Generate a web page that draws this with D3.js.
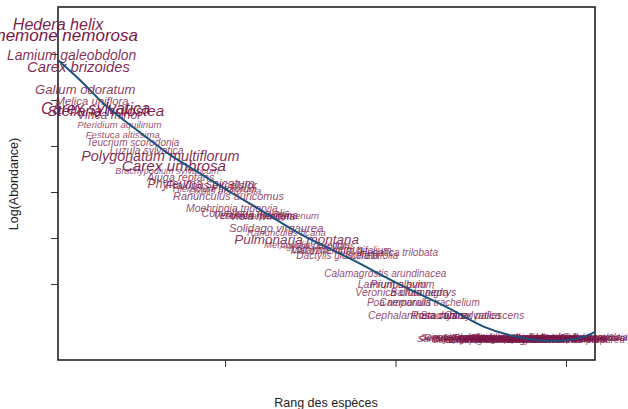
<!DOCTYPE html>
<html>
<head>
<meta charset="utf-8">
<script src="https://cdn.jsdelivr.net/npm/d3@7"></script>
<style>
body { margin: 0; background: #fff; }
text { font-family: "Liberation Sans", Arial, sans-serif; }
</style>
</head>
<body>
<svg id="chart" width="628" height="409"></svg>
<script>
// rang / log(abondance) / frequence relative (taille du texte)
var especes = [
    'Hedera helix', 'Anemone nemorosa', 'Lamium galeobdolon', 'Carex brizoides',
    'Galium odoratum', 'Melica uniflora', 'Carex sylvatica', 'Stellaria holostea',
    'Vinca minor', 'Pteridium aquilinum', 'Festuca altissima', 'Teucrium scorodonia',
    'Luzula sylvatica', 'Polygonatum multiflorum', 'Carex umbrosa', 'Brachypodium sylvaticum',
    'Ajuga reptans', 'Phyteuma spicatum', 'Fraxinus excelsior', 'Hieracium murorum',
    'Oxalis acetosella', 'Ranunculus auricomus', 'Moehringia trinervia', 'Convallaria majalis',
    'Veronica montana', 'Viola riviniana', 'Lonicera periclymenum', 'Solidago virgaurea',
    'Ranunculus ficaria', 'Pulmonaria montana', 'Mercurialis perennis', 'Agrostis capillaris',
    'Lathyrus vernus', 'Maianthemum bifolium', 'Dactylis glomerata', 'Scilla bifolia',
    'Hepatica trilobata', 'Calamagrostis arundinacea', 'Lamium album', 'Prunus avium',
    'Veronica chamaedrys', 'Ballota nigra', 'Poa nemoralis', 'Campanula trachelium',
    'Cephalanthera rubra', 'Rosa canina', 'Stachys sylvatica', 'Carex pallescens',
    'Senecio ovatus', 'Sanicula europaea', 'Circaea lutetiana', 'Galium aparine',
    'Geranium robertianum', 'Urtica dioica', 'Dryopteris filix-mas', 'Athyrium filix-femina',
    'Carpinus betulus', 'Fagus sylvatica', 'Quercus robur', 'Sorbus aucuparia',
    'Crataegus monogyna', 'Corylus avellana', 'Epilobium montanum', 'Mycelis muralis',
    'Fragaria vesca', 'Geum urbanum', 'Glechoma hederacea', 'Impatiens parviflora',
    'Juncus effusus', 'Luzula pilosa', 'Milium effusum', 'Deschampsia cespitosa',
    'Carex remota', 'Carex digitata', 'Epipactis helleborine', 'Neottia nidus-avis',
    'Paris quadrifolia', 'Rubus idaeus', 'Sambucus nigra', 'Acer campestre',
    'Ilex aquifolium', 'Lysimachia nemorum', 'Primula elatior', 'Arum maculatum',
    'Allium ursinum', 'Ranunculus repens', 'Prenanthes purpurea', 'Cardamine pratensis',
    'Viola hirta', 'Euphorbia amygdaloides', 'Carex pendula', 'Hypericum perforatum'
];

var rang = [
    1, 2, 5, 7, 9, 11, 12, 15, 16, 19, 20, 23,
    27, 31, 35, 33, 37, 43, 46, 47, 50, 51, 52, 56,
    59, 61, 63, 65, 68, 71, 74, 77, 80, 84, 83, 93,
    101, 97, 99, 102, 103, 107, 101, 110, 106, 113, 119, 126,
    117, 118, 119, 120, 121, 122, 123, 124, 125, 126, 127, 128,
    129, 130, 131, 132, 133, 134, 135, 136, 137, 138, 139, 140,
    141, 142, 143, 144, 145, 146, 147, 148, 148, 149, 150, 151,
    152, 153, 154, 155, 156, 157, 157, 158
];

var logAb = [
    6.65, 6.41, 5.98, 5.72, 5.22, 4.98, 4.83, 4.78, 4.67, 4.46, 4.24, 4.07,
    3.91, 3.78, 3.57, 3.46, 3.33, 3.17, 3.15, 3.07, 3.04, 2.91, 2.65, 2.54,
    2.48, 2.46, 2.50, 2.22, 2.13, 1.96, 1.87, 1.83, 1.76, 1.74, 1.63, 1.61,
    1.68, 1.24, 0.98, 0.98, 0.81, 0.81, 0.61, 0.61, 0.31, 0.31, 0.31, 0.31,
    -0.15, -0.19, -0.14, -0.20, -0.16, -0.13, -0.19, -0.17, -0.21, -0.15, -0.18, -0.14,
    -0.20, -0.16, -0.19, -0.13, -0.18, -0.21, -0.15, -0.17, -0.20, -0.14, -0.18, -0.16,
    -0.21, -0.15, -0.19, -0.17, -0.13, -0.20, -0.16, -0.18, -0.14, -0.21, -0.17, -0.15,
    -0.19, -0.16, -0.20, -0.14, -0.18, -0.17, -0.15, -0.16
];

var frequence = [
    0.90, 1.00, 0.65, 0.75, 0.55, 0.35, 0.90, 0.80, 0.45, 0.15, 0.15, 0.20,
    0.25, 0.70, 0.80, 0.10, 0.30, 0.45, 0.35, 0.15, 0.15, 0.30, 0.25, 0.25,
    0.25, 0.25, 0.15, 0.35, 0.15, 0.60, 0.15, 0.15, 0.20, 0.20, 0.20, 0.20,
    0.20, 0.20, 0.25, 0.25, 0.25, 0.25, 0.20, 0.20, 0.25, 0.25, 0.25, 0.25,
    0.15, 0.15, 0.15, 0.15, 0.15, 0.15, 0.15, 0.15, 0.15, 0.15, 0.15, 0.15,
    0.15, 0.15, 0.15, 0.15, 0.15, 0.15, 0.15, 0.15, 0.15, 0.15, 0.15, 0.15,
    0.15, 0.15, 0.15, 0.15, 0.15, 0.15, 0.15, 0.15, 0.15, 0.15, 0.15, 0.15,
    0.15, 0.15, 0.15, 0.15, 0.15, 0.15, 0.15, 0.15
];

// courbe ajustee
var rangFit = [1, 7.5, 15.4, 25, 34, 43, 51.5, 60, 72, 87, 101, 116, 126, 134.5, 142, 150, 155, 158.5];
var logFit = [5.87, 5.43, 4.85, 4.30, 3.80, 3.39, 3.00, 2.63, 2.09, 1.54, 1.00, 0.46, 0.07, -0.13, -0.22, -0.22, -0.15, -0.04];

var xTicks = [50, 100, 150];
var yTicks = [1, 2, 3, 4, 5, 6];

var svg = d3.select('#chart');

var x = d3.scaleLinear().domain([1, 158.5]).range([58, 595]);
var y = d3.scaleLinear().domain([-0.65, 7.02]).range([360, 7]);
var taille = d3.scaleLinear().domain([0, 1]).range([8.3, 17]);

/*
** Axes
 */
var gx = svg.append('g')
    .attr('transform', 'translate(0,360)')
    .call(d3.axisBottom(x).tickValues(xTicks).tickFormat('').tickSize(7).tickSizeOuter(0));
var gy = svg.append('g')
    .attr('transform', 'translate(58,0)')
    .call(d3.axisLeft(y).tickValues(yTicks).tickFormat('').tickSize(7).tickSizeOuter(0));
[gx, gy].forEach(function (g) {
    g.select('.domain').remove();
    g.selectAll('line').attr('stroke', '#333').attr('stroke-width', 1);
});

svg.append('rect')
    .attr('x', 58).attr('y', 7)
    .attr('width', 537).attr('height', 353)
    .attr('fill', 'none')
    .attr('stroke', '#222')
    .attr('stroke-width', 1.6);

/*
** Species labels
 */
var rows = especes.map(function (nom, i) {
    return { nom: nom, rang: rang[i], val: logAb[i], f: frequence[i] };
});

svg.append('g').selectAll('text')
    .data(rows)
    .enter().append('text')
    .attr('x', function (d) { return x(d.rang); })
    .attr('y', function (d) { return y(d.val); })
    .attr('text-anchor', 'middle')
    .attr('dominant-baseline', 'central')
    .attr('font-style', 'italic')
    .attr('font-size', function (d) { return taille(d.f); })
    .attr('fill', '#7a1547')
    .attr('fill-opacity', function (d) { return 0.75 + 0.25 * d.f; })
    .text(function (d) { return d.nom; });

/*
** Fitted line
 */
var fit = rangFit.map(function (r, i) { return [r, logFit[i]]; });
svg.append('path')
    .datum(fit)
    .attr('fill', 'none')
    .attr('stroke', '#1d4f7c')
    .attr('stroke-width', 2)
    .attr('d', d3.line()
        .x(function (d) { return x(d[0]); })
        .y(function (d) { return y(d[1]); })
        .curve(d3.curveCatmullRom));

/*
** Axis titles
 */
svg.append('text')
    .attr('x', 326).attr('y', 407)
    .attr('text-anchor', 'middle')
    .attr('font-size', 12.5)
    .attr('fill', '#222')
    .text('Rang des espèces');

svg.append('text')
    .attr('transform', 'translate(18,184) rotate(-90)')
    .attr('text-anchor', 'middle')
    .attr('font-size', 12.5)
    .attr('fill', '#222')
    .text('Log(Abondance)');
</script>
</body>
</html>
